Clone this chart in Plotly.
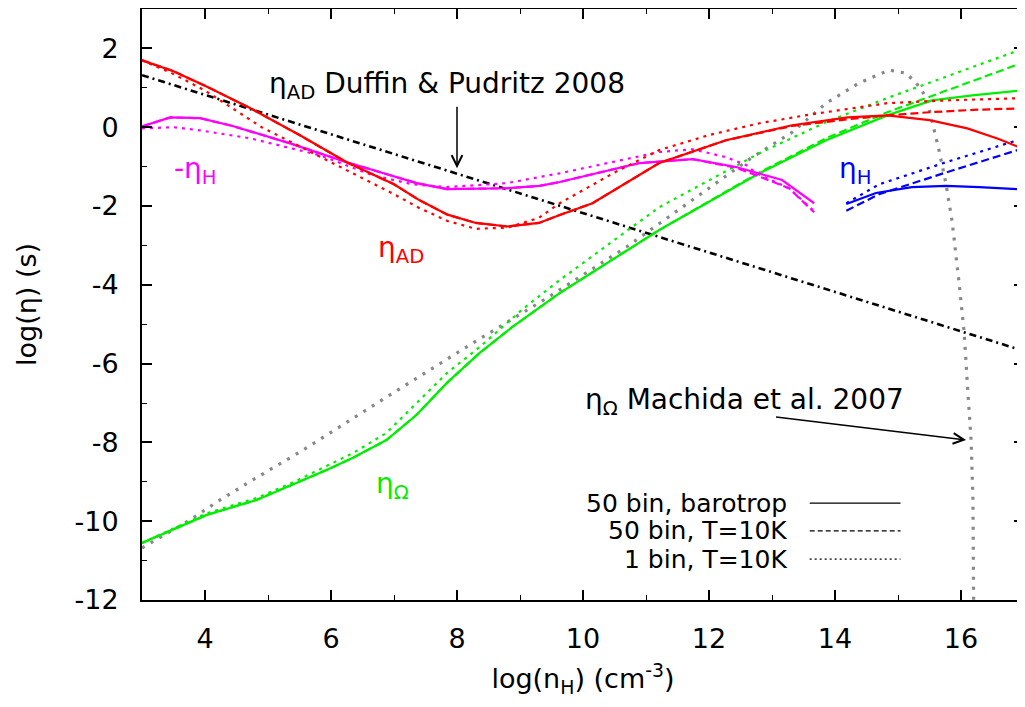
import plotly.graph_objects as go

# ---------------- data ----------------
# eta_AD
ad_baro_x = [3.0, 3.5, 4.0, 4.7, 5.5, 6.25, 7.0, 7.4, 7.85, 8.3, 8.8, 9.3, 9.63, 10.15, 11.21, 12.27, 13.32, 14.2, 14.83, 15.5, 16.1, 16.6, 17.0]
ad_baro_y = [1.70, 1.42, 1.05, 0.50, -0.20, -0.89, -1.45, -1.85, -2.22, -2.43, -2.52, -2.43, -2.23, -1.93, -0.91, -0.33, 0.05, 0.25, 0.30, 0.18, -0.03, -0.30, -0.56]
ad_t10_x = [3.0, 3.5, 4.0, 4.7, 5.5, 6.25, 7.0, 7.4, 7.85, 8.3, 8.8, 9.3, 9.63, 10.15, 11.21, 12.27, 13.32, 14.2, 14.83, 15.5, 16.2, 17.0]
ad_t10_y = [1.70, 1.42, 1.05, 0.50, -0.20, -0.89, -1.45, -1.85, -2.22, -2.43, -2.52, -2.43, -2.23, -1.93, -0.91, -0.33, 0.03, 0.20, 0.30, 0.38, 0.44, 0.48]
ad_1bin_x = [3.0, 3.5, 4.0, 4.9, 6.0, 7.0, 7.4, 7.85, 8.3, 8.8, 9.3, 9.63, 10.5, 11.21, 12.0, 12.8, 13.64, 14.83, 15.76, 17.0]
ad_1bin_y = [1.70, 1.35, 0.93, 0.00, -0.89, -1.70, -2.05, -2.38, -2.58, -2.55, -2.30, -1.93, -1.15, -0.58, -0.20, 0.10, 0.33, 0.61, 0.68, 0.74]

# -eta_H
hm_baro_x = [3.0, 3.45, 3.92, 4.44, 5.35, 6.25, 7.36, 7.84, 8.79, 9.31, 9.63, 10.9, 11.74, 12.43, 13.16, 13.67]
hm_baro_y = [0.02, 0.25, 0.23, 0.03, -0.41, -0.89, -1.42, -1.57, -1.55, -1.49, -1.39, -0.91, -0.81, -1.01, -1.34, -1.93]
hm_t10_x = [3.0, 3.45, 3.92, 4.44, 5.35, 6.25, 7.36, 7.84, 8.79, 9.31, 9.63, 10.9, 11.74, 12.43, 12.75, 13.27, 13.67]
hm_t10_y = [0.02, 0.25, 0.23, 0.03, -0.41, -0.89, -1.42, -1.57, -1.55, -1.49, -1.39, -0.91, -0.81, -1.03, -1.22, -1.55, -2.16]
hm_1bin_x = [3.0, 3.5, 3.92, 4.71, 5.82, 6.66, 7.3, 7.84, 8.79, 9.63, 10.1, 11.21, 11.74, 12.27, 12.59, 12.75, 13.27, 13.67]
hm_1bin_y = [-0.03, 0.00, -0.08, -0.28, -0.71, -1.22, -1.45, -1.52, -1.42, -1.17, -1.01, -0.63, -0.56, -0.76, -0.96, -1.17, -1.55, -2.13]

# +eta_H
hp_baro_x = [14.18, 14.4, 14.65, 15.22, 15.76, 16.29, 17.0]
hp_baro_y = [-1.95, -1.82, -1.67, -1.52, -1.49, -1.52, -1.58]
hp_t10_x = [14.18, 14.7, 15.76, 17.0]
hp_t10_y = [-2.12, -1.70, -1.15, -0.53]
hp_1bin_x = [14.18, 14.7, 15.76, 17.0]
hp_1bin_y = [-1.93, -1.45, -0.89, -0.28]

# eta_Omega
om_baro_x = [3.0, 4.03, 4.82, 5.39, 5.93, 6.35, 6.88, 7.36, 7.84, 8.36, 8.88, 9.63, 11.21, 12.8, 13.86, 14.83, 15.54, 16.18, 17.0]
om_baro_y = [-10.55, -9.84, -9.46, -9.08, -8.70, -8.39, -7.94, -7.30, -6.49, -5.73, -5.07, -4.21, -2.61, -1.17, -0.33, 0.30, 0.68, 0.81, 0.94]
om_t10_x = [3.0, 4.03, 4.82, 5.39, 5.93, 6.35, 6.88, 7.36, 7.84, 8.36, 8.88, 9.63, 11.21, 12.8, 13.86, 14.83, 15.8, 17.0]
om_t10_y = [-10.55, -9.84, -9.46, -9.08, -8.70, -8.39, -7.94, -7.30, -6.49, -5.73, -5.07, -4.21, -2.61, -1.15, -0.28, 0.38, 0.95, 1.65]
om_1bin_x = [3.0, 4.03, 4.82, 5.39, 5.93, 6.35, 6.88, 7.36, 7.84, 8.36, 9.04, 9.63, 11.21, 12.8, 13.86, 14.83, 15.8, 17.0]
om_1bin_y = [-10.55, -9.80, -9.41, -9.02, -8.60, -8.27, -7.76, -7.00, -6.24, -5.58, -4.62, -3.88, -2.03, -0.66, 0.13, 0.74, 1.30, 2.00]

# Machida et al. 2007 eta_Omega
mach_x = [3.0, 3.76, 4.24, 4.76, 5.51, 6.25, 6.98, 7.52, 8.25, 9.31, 9.63, 10.69, 11.74, 12.69, 13.32, 13.86, 14.38, 14.86, 15.13, 15.29, 15.45, 15.54, 15.65, 15.76, 15.86, 15.97, 16.05, 16.1, 16.16, 16.19, 16.2]
mach_y = [-10.68, -9.97, -9.46, -8.95, -8.24, -7.48, -6.75, -6.21, -5.48, -4.45, -4.13, -3.04, -1.85, -0.76, -0.13, 0.61, 1.12, 1.45, 1.37, 1.12, 0.76, 0.18, -0.58, -1.42, -2.4, -3.96, -5.2, -6.49, -7.94, -9.46, -12.0]

# Duffin & Pudritz 2008 eta_AD
dp_x = [3.0, 17.0]
dp_y = [1.32, -5.68]

x_tickvals = [4, 6, 8, 10, 12, 14, 16]
x_ticktext = ["4", "6", "8", "10", "12", "14", "16"]
y_tickvals = [-12, -10, -8, -6, -4, -2, 0, 2]
y_ticktext = ["-12", "-10", "-8", "-6", "-4", "-2", "0", "2"]

legend_labels = ["50 bin, barotrop", "50 bin, T=10K", "1 bin, T=10K"]

# ---------------- styling ----------------
RED, MAG, BLUE, GREEN, GRAY = "#ff0000", "#ff00ff", "#0000ff", "#00ee00", "#888888"
FONT = "DejaVu Sans"
SOLID, DASH, DOT = "solid", "8px,4px", "3px,5px"
LW = 2.2

fig = go.Figure()

def add(x, y, color, dash, width=LW):
    fig.add_trace(go.Scatter(x=x, y=y, mode="lines", showlegend=False,
                             line=dict(color=color, dash=dash, width=width),
                             hoverinfo="skip"))

add(mach_x, mach_y, GRAY, "3px,7px", 3.2)
add(dp_x, dp_y, "black", "7px,4px,2px,4px", 2.6)

add(om_1bin_x, om_1bin_y, GREEN, DOT)
add(om_t10_x, om_t10_y, GREEN, DASH)
add(om_baro_x, om_baro_y, GREEN, SOLID)

add(hm_1bin_x, hm_1bin_y, MAG, DOT)
add(hm_t10_x, hm_t10_y, MAG, DASH)
add(hm_baro_x, hm_baro_y, MAG, SOLID)

add(ad_1bin_x, ad_1bin_y, RED, DOT)
add(ad_t10_x, ad_t10_y, RED, DASH)
add(ad_baro_x, ad_baro_y, RED, SOLID)

add(hp_1bin_x, hp_1bin_y, BLUE, DOT)
add(hp_t10_x, hp_t10_y, BLUE, DASH)
add(hp_baro_x, hp_baro_y, BLUE, SOLID)

ann_font = dict(family=FONT, size=28, color="black")
annotations = [
    dict(x=4.98, y=1.05, xref="x", yref="y", text="η<sub>AD</sub> Duffin &amp; Pudritz 2008",
         showarrow=False, xanchor="left", yanchor="middle", font=ann_font),
    dict(x=8.0, y=-1.04, xref="x", yref="y", ax=8.0, ay=0.56, axref="x", ayref="y",
         text="", showarrow=True, arrowhead=5, arrowsize=1.4, arrowwidth=1.5, arrowcolor="black"),
    dict(x=10.0, y=-6.95, xref="x", yref="y", text="η<sub>Ω</sub> Machida et al. 2007",
         showarrow=False, xanchor="left", yanchor="middle", font=ann_font),
    dict(x=16.08, y=-7.94, xref="x", yref="y", ax=13.04, ay=-7.35, axref="x", ayref="y",
         text="", showarrow=True, arrowhead=5, arrowsize=1.4, arrowwidth=1.5, arrowcolor="black"),
    dict(x=3.48, y=-1.1, xref="x", yref="y", text="-η<sub>H</sub>", showarrow=False,
         xanchor="left", yanchor="middle", font=dict(family=FONT, size=28, color=MAG)),
    dict(x=6.72, y=-3.1, xref="x", yref="y", text="η<sub>AD</sub>", showarrow=False,
         xanchor="left", yanchor="middle", font=dict(family=FONT, size=28, color=RED)),
    dict(x=6.68, y=-9.1, xref="x", yref="y", text="η<sub>Ω</sub>", showarrow=False,
         xanchor="left", yanchor="middle", font=dict(family=FONT, size=28, color=GREEN)),
    dict(x=14.03, y=-1.1, xref="x", yref="y", text="η<sub>H</sub>", showarrow=False,
         xanchor="left", yanchor="middle", font=dict(family=FONT, size=28, color=BLUE)),
]

# manual legend (text left of the sample lines, gnuplot style)
leg_y = [0.164, 0.117, 0.069]
leg_dash = ["solid", "5px,3px", "2px,3px"]
shapes = []
for lab, yy, dsh in zip(legend_labels, leg_y, leg_dash):
    annotations.append(dict(x=0.733, y=yy, xref="paper", yref="paper", text=lab,
                            showarrow=False, xanchor="right", yanchor="middle",
                            font=dict(family=FONT, size=25, color="black")))
    shapes.append(dict(type="line", xref="paper", yref="paper", x0=0.757, x1=0.86,
                       y0=yy, y1=yy, line=dict(color="black", width=1.3, dash=dsh)))

tick_font = dict(family=FONT, size=27, color="black")
axis_common = dict(showgrid=False, zeroline=False, showline=True, linecolor="black",
                   linewidth=2, mirror="allticks", ticks="inside", ticklen=10,
                   tickwidth=1.5, tickcolor="black", tickfont=tick_font, automargin=False)

# the page body keeps its default 8px margin, so the figure is sized to fit the window
fig.update_layout(
    width=1017, height=699, autosize=False,
    margin=dict(l=134, r=1, t=1, b=107),
    paper_bgcolor="white", plot_bgcolor="white",
    font=dict(family=FONT, color="black"),
    xaxis=dict(range=[3, 17], tickvals=x_tickvals, ticktext=x_ticktext,
               minor=dict(ticks="inside", dtick=1, ticklen=5, tickwidth=1.2, tickcolor="black"),
               ticklabelstandoff=14,
               title=dict(text="log(n<sub>H</sub>) (cm<sup>-3</sup>)",
                          font=dict(family=FONT, size=27, color="black"), standoff=16),
               **axis_common),
    yaxis=dict(range=[-12, 3], tickvals=y_tickvals, ticktext=y_ticktext,
               minor=dict(ticks="inside", dtick=1, ticklen=5, tickwidth=1.2, tickcolor="black"),
               ticklabelstandoff=16,
               title=dict(text="log(η) (s)", font=dict(family=FONT, size=27, color="black"),
                          standoff=30),
               **axis_common),
    annotations=annotations,
    shapes=shapes,
)

fig.write_html("out.html", config={"responsive": False})
